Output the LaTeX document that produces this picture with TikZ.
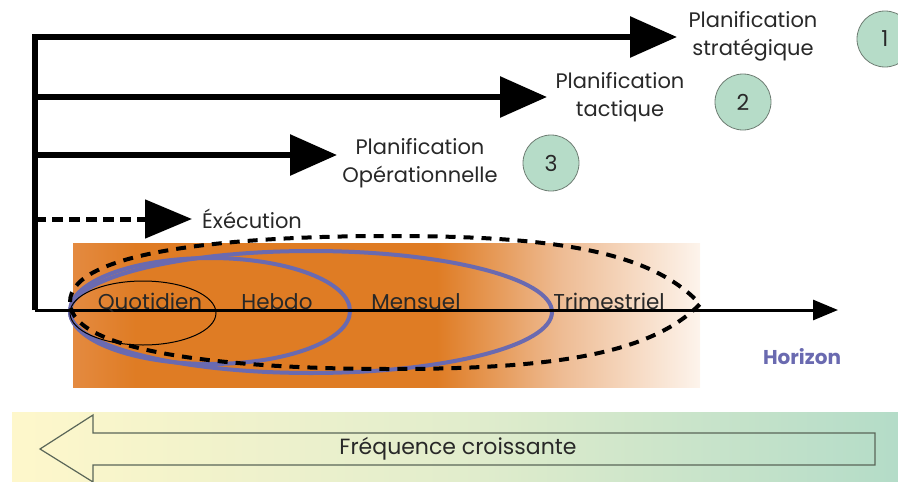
\documentclass[tikz,border=0pt]{standalone}
\usepackage{fontspec}
\setmainfont{Poppins}
\usetikzlibrary{arrows.meta}
\definecolor{orangeA}{RGB}{223,124,36}
\definecolor{orangeB}{RGB}{228,138,64}
\definecolor{orangeC}{RGB}{238,188,148}
\definecolor{orangeD}{RGB}{253,244,236}
\definecolor{ellblue}{RGB}{106,106,176}
\definecolor{circfill}{RGB}{182,220,200}
\definecolor{circline}{RGB}{110,125,115}
\definecolor{txtgray}{RGB}{40,40,40}
\definecolor{bandL}{RGB}{254,247,203}
\definecolor{bandM}{RGB}{226,237,204}
\definecolor{bandR}{RGB}{180,220,200}
\definecolor{arrgray}{RGB}{90,102,88}
\pgfdeclarehorizontalshading{orangefade}{100bp}{color(0bp)=(orangeB); color(25bp)=(orangeB); color(30bp)=(orangeA); color(54bp)=(orangeA); color(64bp)=(orangeC); color(75bp)=(orangeD); color(100bp)=(orangeD)}
\tikzset{
  bigarrow/.style={line width=6pt, -{Triangle[length=47pt,width=40pt]}},
  dasharrow/.style={line width=5pt, dash pattern=on 11pt off 6pt, -{Triangle[length=47pt,width=38pt]}},
  plabel/.style={font=\fontsize{21}{28}\selectfont, text=txtgray, align=center, inner sep=0pt},
  axlabel/.style={font=\fontsize{21.5}{24}\selectfont, text=txtgray, anchor=base, inner sep=0pt},
  numcirc/.style={circle, minimum size=56pt, inner sep=0pt, fill=circfill, draw=circline, line width=0.8pt, font=\fontsize{22}{24}\selectfont, text=txtgray},
  blueell/.style={draw=ellblue, line width=4pt}
}
\begin{document}
\begin{tikzpicture}[x=1pt,y=-1pt]
\useasboundingbox (0,0) rectangle (898,482);
% background orange band
\shade[shading=orangefade] (73,243) rectangle (700,387);
% bottom band
\shade[left color=bandL, right color=bandR, middle color=bandM] (12,412) rectangle (898,482);
% ellipses
\draw[blueell] (311,312) ellipse [x radius=241, y radius=61];
\draw[blueell] (210,311) ellipse [x radius=140, y radius=53];
\draw[black, line width=1pt] (143,313) ellipse [x radius=73, y radius=32];
\draw[black, line width=4pt, dash pattern=on 10pt off 8pt]
  (70,302) .. controls (70,248) and (250,236) .. (390,236)
  .. controls (550,236) and (650,250) .. (700,304)
  .. controls (650,355) and (550,369) .. (390,369)
  .. controls (250,369) and (70,356) .. cycle;
% coordinates
\coordinate (vtop) at (35,37);
\coordinate (origin) at (35,310);
\coordinate (s2) at (35,97);
\coordinate (s3) at (35,155);
\coordinate (s4) at (35,219);
\coordinate (t1) at (677,37);
\coordinate (t2) at (547,97);
\coordinate (t3) at (337,155);
\coordinate (t4) at (192,219);
\coordinate (hz) at (838,310);
% axes
\draw[line width=3pt, -{Triangle[length=25pt,width=20pt]}] (origin) -- (hz);
\draw[bigarrow, line join=miter] (origin) -- (vtop) -- (t1);
\draw[bigarrow] (s2) -- (t2);
\draw[bigarrow] (s3) -- (t3);
\draw[dasharrow] (s4) -- (t4);
% labels
\node[plabel] (strat) at (753,36) {Planification\\stratégique};
\node[plabel] (tact) at (620,97) {Planification\\tactique};
\node[plabel] (oper) at (420,163) {Planification\\Opérationnelle};
\node[plabel, anchor=west] (exec) at (202,219) {Éxécution};
\node[numcirc] (c1) at (885,39) {1};
\node[numcirc] (c2) at (743,102) {2};
\node[numcirc] (c3) at (551,163) {3};
\node[axlabel] (quot) at (150,309) {Quotidien};
\node[axlabel] (hebdo) at (277,309) {Hebdo};
\node[axlabel] (mens) at (416,309) {Mensuel};
\node[axlabel] (trim) at (609,309) {Trimestriel};
\node[font=\bfseries\fontsize{20}{24}\selectfont, text=ellblue, inner sep=0pt] (horizon) at (802,357) {Horizon};
% frequency arrow
\draw[arrgray, line width=1.2pt, line join=miter]
  (40,449) -- (93,415) -- (93,433) -- (875,433) -- (875,465) -- (93,465) -- (93,482) -- cycle;
\node[font=\fontsize{22}{24}\selectfont, text=txtgray, inner sep=0pt] (freq) at (458,449) {Fréquence croissante};
\end{tikzpicture}
\end{document}
